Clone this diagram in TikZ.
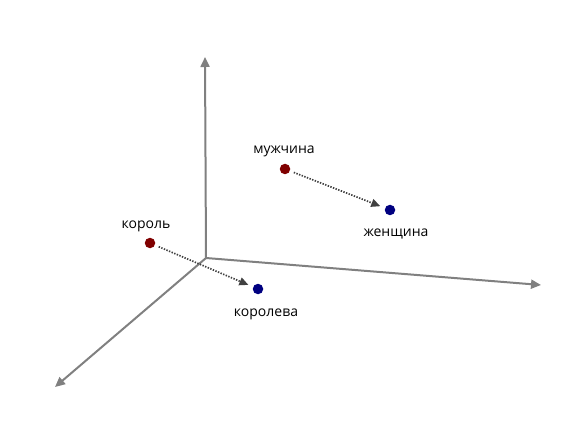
\documentclass[tikz,border=0pt]{standalone}
\usepackage{fontspec}
\setmainfont{Open Sans}
\usetikzlibrary{positioning, arrows.meta}
\definecolor{axisgray}{RGB}{128,128,128}
\definecolor{kingred}{RGB}{128,0,0}
\definecolor{queenblue}{RGB}{0,0,128}
\definecolor{shiftgray}{RGB}{64,64,64}

\begin{document}
\begin{tikzpicture}[x=1pt, y=-1pt, axis/.style={-{Triangle[length=10pt, width=9pt]}, axisgray, line width=2pt}, dot/.style={circle, inner sep=0pt, minimum size=10.5pt}, word/.style={font=\fontsize{14}{16}\selectfont, inner sep=0pt}, offsetline/.style={-{Triangle[length=9pt, width=8pt]}, shiftgray, line width=1.7pt, dash pattern=on 1.4pt off 1.4pt, shorten <=4pt, shorten >=5pt}]
      \useasboundingbox (0,0) rectangle (564,430);
      \coordinate (o) at (206,258); \coordinate (up) at (205,57); \coordinate
      (right) at (541,285); \coordinate (left) at (55,387);
      \draw[axis] (o) -- (up); \draw[axis] (o) -- (right); \draw[axis] (o) --
      (left);

      \node[dot, fill=kingred] (man) at (285,169) {}; \node[dot,
      fill=queenblue] (woman) at (390,210) {}; \node[dot, fill=kingred]
      (king) at (150,243) {}; \node[dot, fill=queenblue] (queen) at (258,289)
      {};
      \node[word, above=6pt of man, xshift=-1pt] (manlabel) {мужчина};
      \node[word, below=13pt of woman, xshift=6pt] (womanlabel) {женщина};
      \node[word, above=5pt of king, xshift=-4pt] (kinglabel) {король};
      \node[word, below=14pt of queen, xshift=8pt] (queenlabel) {королева};

      \draw[offsetline] (man) -- (woman); \draw[offsetline] (king) -- (queen);
    \end{tikzpicture}
\end{document}
